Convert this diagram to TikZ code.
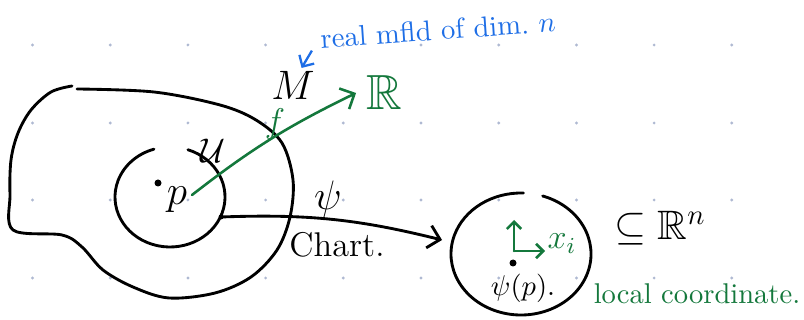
\documentclass[tikz,border=0pt]{standalone}
\usepackage{amsmath,amssymb}
\usepackage{tikz}
\usetikzlibrary{arrows.meta}
\definecolor{inkgreen}{RGB}{20,120,60}
\definecolor{inkblue}{RGB}{30,110,230}
\definecolor{griddot}{RGB}{175,185,210}

\begin{document}
\begin{tikzpicture}[x=0.35pt,y=-0.35pt,>={Straight Barb[length=4pt,width=8pt]},
  ink/.style={line width=1pt,line cap=round,line join=round},
  greenink/.style={inkgreen,line width=0.9pt,line cap=round}]
  \useasboundingbox (0,0) rectangle (804,320);
  % dotted grid of the page
  \foreach \gx in {0,...,9}
    \foreach \gy in {45,123,200,278}
      \fill[griddot] ({32.5+77.7*\gx},\gy) circle[radius=1.6];
  % the manifold M
  \draw[ink] plot[smooth,tension=0.55] coordinates {
    (77,89)(154,92)(220,105)(256,120)(282,143)(293,180)(290,217)
    (277,250)(251,277)(215,293)(169,298)(133,287)(103,270)(82,247)
    (62,235)(13,230)(10,195)(11,160)(18,133)(31,110)(51,92)(72,86)};
  \node[font=\Large] (Mlabel) at (293,85) {$M$};
  % the open set U around p
  \coordinate (Uc) at (170,197);
  \draw[ink] (Uc) ++(-71:55 and 50) arc[start angle=-71,end angle=253,x radius=55,y radius=50];
  \node[font=\large] (Ulabel) at (213,151) {$\mathcal{U}$};
  \fill (158,183) circle[radius=3.5];
  \node[font=\Large] (plabel) at (177,200) {$p$};
  % f : M -> R
  \coordinate (fstart) at (192,195);
  \node[inkgreen,font=\LARGE] (reals) at (384,93) {$\mathbb{R}$};
  \draw[greenink,->] (fstart) to[bend left=6] (reals.west);
  \node[inkgreen,font=\large] (flabel) at (275,124) {$f$};
  % the chart psi
  \coordinate (chartstart) at (221,217);
  \coordinate (chartend) at (442,240);
  \fill (chartstart) circle[radius=2.5];
  \draw[ink,->] (chartstart) to[bend left=8] (chartend);
  \node[font=\Large] (psilabel) at (328,199) {$\psi$};
  \node[font=\large] (chartlabel) at (337,245) {Chart.};
  % image of U in R^n
  \coordinate (Vc) at (521,254);
  \draw[ink] (Vc) ++(-72:70 and 61) arc[start angle=-72,end angle=272,x radius=70,y radius=61];
  \coordinate (origin) at (514,251);
  \draw[greenink,-{Straight Barb[length=2.5pt,width=5pt]}] (origin) -- ++(0,-31);
  \draw[greenink,-{Straight Barb[length=2.5pt,width=5pt]}] (origin) -- ++(31,0);
  \node[inkgreen,font=\large] (xlabel) at (562,244) {$x_i$};
  \fill (513,263) circle[radius=3.5];
  \node (psip) at (523,288) {$\psi(p)$.};
  \node[font=\Large] (subset) at (660,228) {$\subseteq\mathbb{R}^n$};
  \node[inkgreen] (localcoord) at (697,294) {local coordinate.};
  % note on M
  \node[inkblue,rotate=4] (note) at (438,30) {real mfld of dim.\ $n$};
  \draw[inkblue,line width=0.8pt,-{Straight Barb[length=3pt,width=6pt]}]
    ([yshift=3pt]note.south west) -- ([xshift=3pt,yshift=-2.5pt]Mlabel.north);
\end{tikzpicture}
\end{document}
